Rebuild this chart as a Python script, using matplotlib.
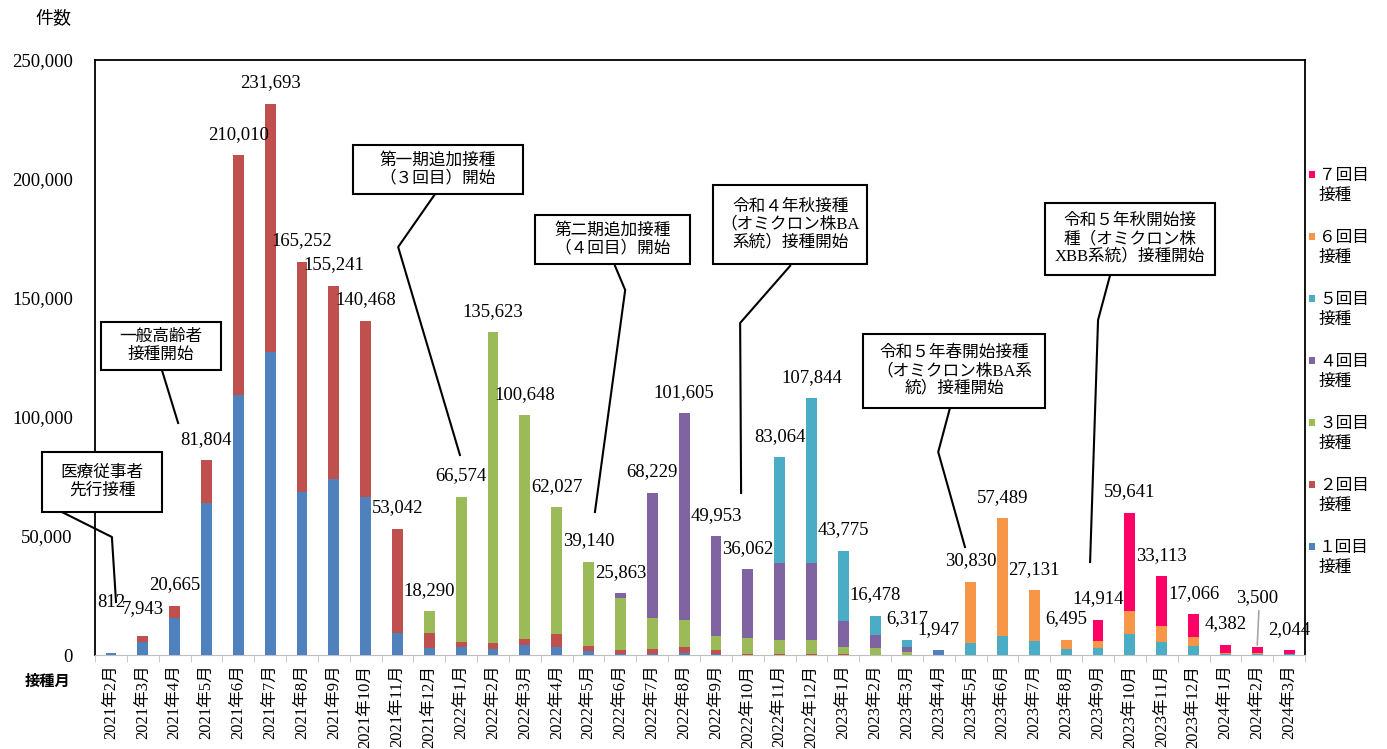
import numpy as np
import matplotlib.pyplot as plt
from matplotlib.patches import Rectangle

# serif digits, CJK falls back to Noto
plt.rcParams['font.family'] = ['Liberation Serif', 'Noto Sans CJK JP']

months = ["2021年2月", "2021年3月", "2021年4月", "2021年5月", "2021年6月", "2021年7月",
          "2021年8月", "2021年9月", "2021年10月", "2021年11月", "2021年12月",
          "2022年1月", "2022年2月", "2022年3月", "2022年4月", "2022年5月", "2022年6月",
          "2022年7月", "2022年8月", "2022年9月", "2022年10月", "2022年11月", "2022年12月",
          "2023年1月", "2023年2月", "2023年3月", "2023年4月", "2023年5月", "2023年6月",
          "2023年7月", "2023年8月", "2023年9月", "2023年10月", "2023年11月", "2023年12月",
          "2024年1月", "2024年2月", "2024年3月"]

dose1 = [812, 5600, 15700, 64000, 109200, 127300, 68600, 73800, 66500, 9100, 2800,
         3200, 2400, 4200, 3500, 1800, 500, 500, 1000, 500, 0, 0, 0,
         0, 0, 0, 1947, 0, 0, 0, 0, 0, 0, 0, 0, 0, 0, 0]
dose2 = [0, 2343, 4965, 17804, 100810, 104393, 96652, 81441, 73968, 43942, 6550,
         2100, 2800, 2400, 5200, 2100, 1500, 2000, 2500, 1500, 500, 300, 300,
         500, 0, 0, 0, 0, 0, 0, 0, 0, 0, 0, 0, 0, 0, 0]
dose3 = [0, 0, 0, 0, 0, 0, 0, 0, 0, 0, 8940,
         61274, 130423, 94048, 53327, 35240, 22100, 12900, 11200, 5900, 6700, 6000, 6000,
         3000, 3000, 1200, 0, 0, 0, 0, 0, 0, 0, 0, 0, 0, 0, 0]
dose4 = [0, 0, 0, 0, 0, 0, 0, 0, 0, 0, 0,
         0, 0, 0, 0, 0, 1763, 52829, 86905, 42053, 28862, 32500, 32500,
         10900, 5300, 2300, 0, 0, 0, 0, 0, 0, 0, 0, 0, 0, 0, 0]
dose5 = [0, 0, 0, 0, 0, 0, 0, 0, 0, 0, 0,
         0, 0, 0, 0, 0, 0, 0, 0, 0, 0, 44264, 69044,
         29375, 8178, 2817, 0, 5200, 8100, 5900, 2400, 3100, 8800, 5600, 3900,
         500, 400, 300]
dose6 = [0, 0, 0, 0, 0, 0, 0, 0, 0, 0, 0,
         0, 0, 0, 0, 0, 0, 0, 0, 0, 0, 0, 0,
         0, 0, 0, 0, 25630, 49389, 21231, 4095, 2900, 9800, 6600, 3800,
         500, 400, 300]
dose7 = [0, 0, 0, 0, 0, 0, 0, 0, 0, 0, 0,
         0, 0, 0, 0, 0, 0, 0, 0, 0, 0, 0, 0,
         0, 0, 0, 0, 0, 0, 0, 0, 8914, 41041, 20913, 9366,
         3382, 2700, 1444]

series = [dose1, dose2, dose3, dose4, dose5, dose6, dose7]
names = ["１回目\n接種", "２回目\n接種", "３回目\n接種", "４回目\n接種",
         "５回目\n接種", "６回目\n接種", "７回目\n接種"]
colors = ['#4F81BD', '#C0504D', '#9BBB59', '#8064A2', '#4BACC6', '#F79646', '#FF0066']

fig = plt.figure(figsize=(13.87, 7.49), dpi=100)
ax = fig.add_axes([0.0685, 0.1255, 0.8724, 0.7944])

x = np.arange(len(months))
bottom = np.zeros(len(months))
for vals, c in zip(series, colors):
    ax.bar(x, vals, width=0.34, bottom=bottom, color=c, zorder=3)
    bottom += np.array(vals)
totals = bottom

# total labels (some raised a bit as in the source)
label_dy = {0: 30, 1: 14, 36: 29}
for i, t in enumerate(totals):
    ax.annotate(f"{int(t):,}", (i, t), xytext=(0, label_dy.get(i, 9)),
                textcoords='offset points', ha='center', va='bottom', fontsize=13.5)
ax.plot([36.05, 36.0], [18500, 4200], color='#A6A6A6', lw=1.2, zorder=4)

ax.set_xlim(-0.5, len(months) - 0.5)
ax.set_ylim(0, 250000)
ax.set_yticks(np.arange(0, 250001, 50000))
ax.set_yticklabels([f"{v:,}" for v in range(0, 250001, 50000)], fontsize=13.5)
ax.tick_params(axis='y', length=0, pad=16)
ax.set_xticks(x)
ax.set_xticklabels(months, rotation=90, fontsize=12)
ax.tick_params(axis='x', length=0, pad=7)
ax.set_xticks(np.arange(-0.5, len(months), 1), minor=True)
ax.tick_params(axis='x', which='minor', length=5, color='#BFBFBF')
for s in ['left', 'top', 'right']:
    ax.spines[s].set_color('black')
    ax.spines[s].set_linewidth(1.3)
ax.spines['bottom'].set_color('#BFBFBF')

fig.text(53 / 1387, 1 - 20 / 749, "件数", fontsize=13, ha='center', va='center')
fig.text(48 / 1387, 1 - 682 / 749, "接種月", fontsize=11, fontweight='bold',
         ha='center', va='center')

# callout boxes: text, centre (x, y), box size (w, h), leader line points
notes = [
    ("医療従事者\n先行接種", (-0.28, 72690), (3.77, 25210),
     [(-1.54, 60080), (0.03, 49580), (0.16, 22270)]),
    ("一般高齢者\n接種開始", (1.57, 129830), (3.77, 20170),
     [(1.60, 119750), (2.11, 97480)]),
    ("第一期追加接種\n（３回目）開始", (10.27, 204000), (5.34, 20590),
     [(10.18, 193700), (9.02, 171430), (10.96, 84030)]),
    ("第二期追加接種\n（４回目）開始", (15.74, 174580), (4.87, 20590),
     [(15.83, 163500), (16.15, 153360), (15.20, 60080)]),
    ("令和４年秋接種\n（オミクロン株BA\n系統）接種開始", (21.33, 180880), (4.84, 33190),
     [(21.33, 163500), (19.76, 139500), (19.79, 68070)]),
    ("令和５年春開始接種\n（オミクロン株BA系\n統）接種開始", (26.48, 119330), (5.72, 31090),
     [(26.35, 103780), (25.98, 85300), (26.82, 45380)]),
    ("令和５年秋開始接\n種（オミクロン株\nXBB系統）接種開始", (32.0, 174790), (5.34, 30250),
     [(31.38, 159660), (31.0, 140760), (30.75, 39080)]),
]
for text, (cx, cy), (w, h), pts in notes:
    px, py = zip(*pts)
    ax.plot(px, py, color='black', lw=1.5, zorder=4, clip_on=False)
    ax.add_patch(Rectangle((cx - w / 2, cy - h / 2), w, h, facecolor='white',
                           edgecolor='black', lw=1.5, zorder=5, clip_on=False))
    ax.text(cx, cy, text, ha='center', va='center', fontsize=12, linespacing=1.15,
            zorder=6)

# legend on the right, top entry first
for k, (name, c) in enumerate(zip(names[::-1], colors[::-1])):
    y0 = 0.807 - k * 0.1042
    ax.add_patch(Rectangle((1.0035, y0 - 0.006), 0.005, 0.012, transform=ax.transAxes,
                           facecolor=c, edgecolor='none', clip_on=False))
    ax.text(1.0115, y0 + 0.012, name, transform=ax.transAxes, ha='left', va='top',
            fontsize=12, linespacing=1.35)

fig.savefig("out.png", dpi=100)
